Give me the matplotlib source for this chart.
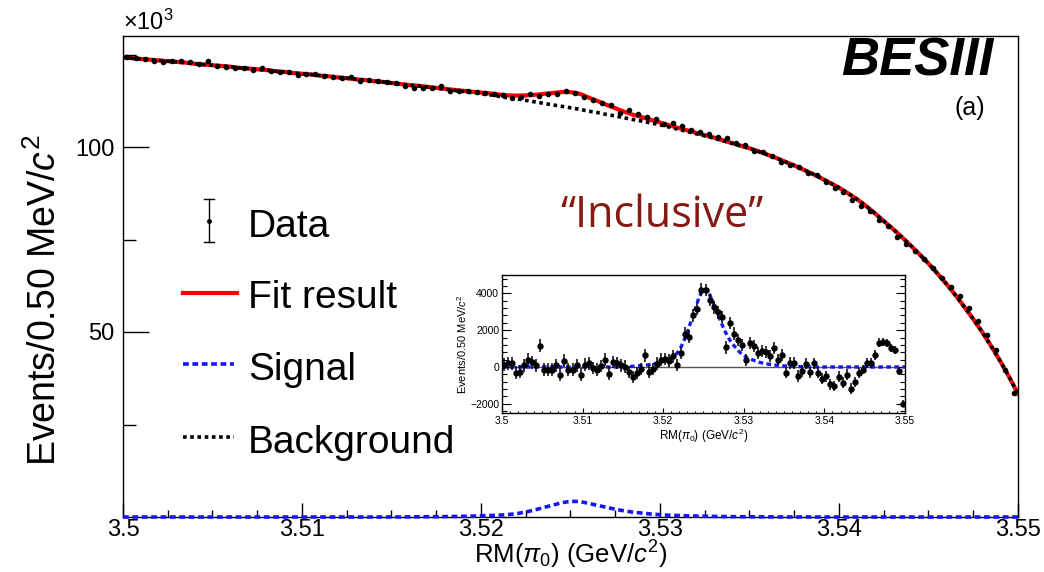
import numpy as np
import matplotlib
matplotlib.use('Agg')
import matplotlib.pyplot as plt
from matplotlib.lines import Line2D
from matplotlib.ticker import MultipleLocator, FixedLocator

plt.rcParams['font.family'] = ['Liberation Sans', 'DejaVu Sans']
plt.rcParams['mathtext.fontset'] = 'custom'
plt.rcParams['mathtext.rm'] = 'Liberation Sans'
plt.rcParams['mathtext.it'] = 'Liberation Sans:italic'
plt.rcParams['mathtext.bf'] = 'Liberation Sans:bold'

# fit curves on a 0.5 MeV grid, 3.500 -> 3.550 GeV
grid = np.linspace(3.5, 3.55, 101)

# background shape, in units of 10^3 events
bkg = [124.2, 124.0, 123.8, 123.6, 123.4, 123.2,
       123.0, 122.8, 122.5, 122.3, 122.1,
       121.9, 121.7, 121.4, 121.2, 121.0,
       120.8, 120.5, 120.3, 120.0, 119.8,
       119.6, 119.3, 119.1, 118.8, 118.6,
       118.3, 118.1, 117.8, 117.6, 117.3,
       117.0, 116.7, 116.5, 116.2, 115.9,
       115.6, 115.3, 115.0, 114.7, 114.4,
       114.1, 113.7, 113.3, 113.0, 112.6,
       112.2, 111.8, 111.4, 111.0, 110.6,
       110.2, 109.7, 109.3, 108.8, 108.4,
       107.9, 107.4, 107.0, 106.5, 106.0,
       105.4, 104.8, 104.2, 103.6, 103.0,
       102.4, 101.7, 101.0, 100.3, 99.6,
       98.8, 97.9, 97.0, 96.0, 95.0,
       93.9, 92.8, 91.6, 90.3, 89.0,
       87.5, 85.9, 84.1, 82.1, 80.0,
       77.9, 75.7, 73.4, 71.0, 68.5,
       65.8, 63.0, 60.0, 56.8, 53.5,
       50.0, 46.2, 42.2, 37.9, 33.3]

# signal shape, events
sig = [0] * 30 + [
    10, 20, 30, 50, 70, 90, 110, 150, 190, 240,
    320, 410, 500, 650, 900, 1350, 1900, 2550, 3200, 3850,
    4230, 4200, 3700, 3150, 2620, 2100, 1650, 1300, 1050, 800,
    620, 480, 400, 320, 250, 200, 160, 125, 100, 80,
    60, 45, 35, 25, 20, 15, 10, 5] + [0] * 23

# data minus background per 0.5 MeV bin (inset), events
resid = [120, 200, 210, -320, -265, 90, 390, 265, 90, 1150,
         -140, -140, -140, 90, -410, 340, -140, -140, 90, -410,
         120, 210, -50, -140, 60, 390, -370, 265, 210, 90,
         20, -265, -550, -320, -100, 640, -250, -120, 180, 400,
         440, 350, 580, 100, 760, 1820, 1650, 2800, 3150, 4210,
         4180, 3650, 3240, 2970, 2700, 1060, 2390, 1820, 1470, 1200,
         400, 1290, 1120, 760, 880, 810, 580, 1030, 400, 640,
         -300, 210, 210, -500, -230, 180, -280, 210, -320, -640,
         -500, -940, -1030, -530, -850, -410, -1170, -810, -320, -140,
         210, 210, 650, 1310, 1360, 1310, 1010, 920, -230, -2000]

xticks = [3.5, 3.51, 3.52, 3.53, 3.54, 3.55]
xtick_labels = ['3.5', '3.51', '3.52', '3.53', '3.54', '3.55']
yticks = [50, 100]
inset_yticks = [-2000, 0, 2000, 4000]
inset_ylabels = ['\u22122000', '0', '2000', '4000']

bkg = np.array(bkg)
sig = np.array(sig, dtype=float)
resid = np.array(resid, dtype=float)
centers = 0.5 * (grid[:-1] + grid[1:])
bkg_bin = 0.5 * (bkg[:-1] + bkg[1:])
data = bkg_bin + resid / 1000.0
err = np.sqrt(data * 1000.0)

fig = plt.figure(figsize=(10.44, 5.72), dpi=100)
ax = fig.add_axes([123 / 1044, 55 / 572, 895 / 1044, 481 / 572])

ax.plot(grid, bkg + sig / 1000.0, color='red', lw=3.0, zorder=3)
ax.plot(grid, bkg, color='black', lw=2.6, dashes=(1.0, 1.0), zorder=4)
ax.plot(grid, sig / 1000.0, color='#1515ff', lw=2.6, dashes=(1.6, 1.0), zorder=4, clip_on=False)
ax.errorbar(centers, data, yerr=err / 1000.0, fmt='o', color='black', ms=3.0,
            elinewidth=1.0, capsize=0, zorder=5)

ax.set_xlim(3.5, 3.55)
ax.set_ylim(0, 130)
ax.set_xticks(xticks)
ax.set_xticklabels(xtick_labels)
ax.xaxis.set_minor_locator(MultipleLocator(0.0025))
ax.set_yticks(yticks)
ax.set_yticklabels([str(v) for v in yticks])
ax.yaxis.set_minor_locator(FixedLocator([25, 75, 125]))
ax.tick_params(axis='both', which='both', direction='in', labelsize=17, width=1.0)
ax.tick_params(axis='x', which='major', length=10, pad=1.5)
ax.tick_params(axis='x', which='minor', length=5)
ax.tick_params(axis='y', which='major', length=19, pad=6)
ax.tick_params(axis='y', which='minor', length=9.5)
for s in ax.spines.values():
    s.set_linewidth(1.0)

ax.set_xlabel(r'RM($\pi_0$) (GeV/$c^2$)', fontsize=18.5)
ax.xaxis.set_label_coords(0.5, -0.046)
ax.set_ylabel(r'Events/0.50 MeV/$c^2$', fontsize=27)
ax.yaxis.set_label_coords(-0.066, 0.45)
fig.text(123 / 1044, 1 - 22 / 572, r'$\times$10$^3$', fontsize=17, ha='left', va='center')

fig.text(993 / 1044, 1 - 61 / 572, 'BESIII', fontsize=38, fontweight='bold',
         fontstyle='italic', ha='right', va='center')
fig.text(985 / 1044, 1 - 108 / 572, '(a)', fontsize=18, ha='right', va='center')
fig.text(662 / 1044, 1 - 216 / 572, '\u201cInclusive\u201d', fontsize=31, color='#861a10',
         family=['Open Sans', 'DejaVu Sans'], ha='center', va='center')

# legend, drawn by hand
def fx(px):
    return px / 1044

def fy(py):
    return 1 - py / 572

fig.add_artist(Line2D([fx(209), fx(209)], [fy(199), fy(242)], color='black', lw=1.0))
fig.add_artist(Line2D([fx(204), fx(214)], [fy(199), fy(199)], color='black', lw=1.0))
fig.add_artist(Line2D([fx(204), fx(214)], [fy(242), fy(242)], color='black', lw=1.0))
fig.add_artist(Line2D([fx(209)], [fy(221)], marker='o', ms=2.5, color='black'))
fig.add_artist(Line2D([fx(183), fx(237)], [fy(293), fy(293)], color='red', lw=3.0))
fig.add_artist(Line2D([fx(183), fx(234)], [fy(364), fy(364)], color='#1515ff', lw=2.6, dashes=(1.6, 1.0)))
fig.add_artist(Line2D([fx(183), fx(234)], [fy(437), fy(437)], color='black', lw=2.6, dashes=(1.0, 1.0)))
legend_labels = ['Data', 'Fit result', 'Signal', 'Background']
for lab, base in zip(legend_labels, [237, 308, 380, 453]):
    fig.text(fx(248), fy(base), lab, fontsize=28, ha='left', va='baseline')

# inset: data minus background
ins = fig.add_axes([502 / 1044, 1 - 413 / 572, 403 / 1044, 138 / 572])
ins.axhline(0, color='#555555', lw=1.0, zorder=1)
ins.plot(grid, sig, color='#1515ff', lw=2.4, dashes=(1.4, 1.0), zorder=2)
ins.errorbar(centers, resid, yerr=np.sqrt(data * 1000.0), fmt='o', color='black', ms=3.6,
             elinewidth=1.1, capsize=0, zorder=3)
ins.set_xlim(3.5, 3.55)
ins.set_ylim(-2500, 5000)
ins.set_xticks(xticks)
ins.set_xticklabels(xtick_labels)
ins.xaxis.set_minor_locator(MultipleLocator(0.001))
ins.set_yticks(inset_yticks)
ins.set_yticklabels(inset_ylabels)
ins.yaxis.set_minor_locator(MultipleLocator(400))
ins.tick_params(axis='both', which='both', direction='in', labelsize=7.5, right=True, width=0.8)
ins.tick_params(axis='x', which='major', length=3.5, pad=2)
ins.tick_params(axis='x', which='minor', length=1.8)
ins.tick_params(axis='y', which='major', length=6.5, pad=2)
ins.tick_params(axis='y', which='minor', length=3.5)
ins.set_xlabel(r'RM($\pi_0$) (GeV/$c^2$)', fontsize=8.5, labelpad=1)
ins.set_ylabel(r'Events/0.50 MeV/$c^2$', fontsize=8, labelpad=1)
for s in ins.spines.values():
    s.set_linewidth(1.0)

fig.savefig('out.png', dpi=100)
